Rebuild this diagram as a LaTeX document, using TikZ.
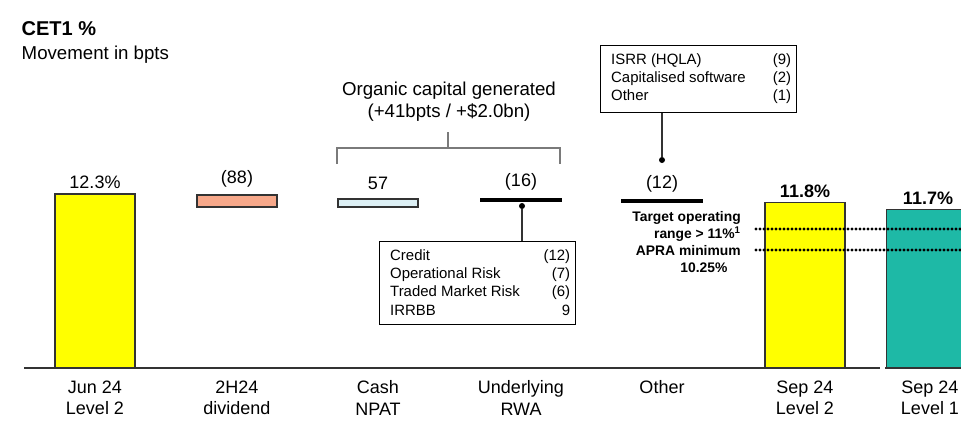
\documentclass[tikz,border=0pt]{standalone}
\usepackage{fontspec}
\setmainfont{Liberation Sans}
\usepackage{xcolor}
\usetikzlibrary{positioning}

\definecolor{barYellow}{HTML}{FFFF00}
\definecolor{barSalmon}{HTML}{F7A88A}
\definecolor{barIce}{HTML}{DDF0F5}
\definecolor{barTeal}{HTML}{1EB9A6}
\definecolor{edgeGrey}{HTML}{333333}
\definecolor{braceGrey}{HTML}{7A7A7A}

\begin{document}
\begin{tikzpicture}[x=0.75pt, y=-0.75pt,
  bar/.style={draw=edgeGrey, line width=1pt, inner sep=0pt, minimum width=60pt},
  stroke/.style={fill=black, inner sep=0pt, minimum width=61pt, minimum height=2.4pt},
  val/.style={font=\fontsize{13.5}{16}\selectfont, inner sep=1pt},
  cat/.style={font=\fontsize{13.5}{16}\selectfont, align=center, anchor=north},
  infobox/.style={draw=black, line width=0.8pt, inner xsep=0pt, inner ysep=3pt, font=\fontsize{11.2}{13.7}\selectfont},
  pin/.style={circle, fill=black, inner sep=0pt, minimum size=4.5pt},
  dots/.style={line width=2.3pt, line cap=round, dash pattern=on 0pt off 3pt}]

  \useasboundingbox (0,0) rectangle (961,433);
  \clip (0,0) rectangle (961,433);

  % Title
  \node[anchor=west, font=\fontsize{15}{18}\selectfont\bfseries] (title) at (17,29) {CET1 \%};
  \node[anchor=west, font=\fontsize{14}{16}\selectfont] (sub) at (17,55) {Movement in bpts};

  % Axis
  \coordinate (ax0) at (24,368);
  \coordinate (ax1) at (880,368);
  \coordinate (ax2) at (885,368);
  \coordinate (ax3) at (961,368);
  \draw[edgeGrey, line width=1.2pt] (ax0) -- (ax1);
  \draw[edgeGrey, line width=1.2pt] (ax2) -- (ax3);

  % Bars
  \node[bar, fill=barYellow, minimum height=130pt, anchor=south] (jun) at (95,368) {};
  \node[bar, fill=barSalmon, minimum height=9pt] (div) at (237,201) {};
  \node[bar, fill=barIce, minimum height=6pt] (npat) at (378,203) {};
  \node[stroke] (rwa) at (521,200) {};
  \node[stroke] (oth) at (662,201) {};
  \node[bar, fill=barYellow, minimum height=123.5pt, anchor=south] (sepa) at (805,368) {};
  \node[bar, fill=barTeal, minimum height=118.5pt, minimum width=62pt, anchor=south west] (sepb) at (886,368) {};

  % Values
  \node[val, above=2pt of jun] (vjun) {12.3\%};
  \node[val, above=4pt of div] (vdiv) {(88)};
  \node[val, above=5pt of npat] (vnpat) {57};
  \node[val, above=5pt of rwa] (vrwa) {(16)};
  \node[val, above=4pt of oth] (voth) {(12)};
  \node[val, above=2pt of sepa, font=\fontsize{13.5}{16}\selectfont\bfseries] (vsepa) {11.8\%};
  \node[val, above=2pt of sepb, font=\fontsize{13.5}{16}\selectfont\bfseries] (vsepb) {11.7\%};

  % Categories
  \node[cat] (cjun) at (95,376) {Jun 24\\Level 2};
  \node[cat] (cdiv) at (237,376) {2H24\\dividend};
  \node[cat] (cnpat) at (378,376) {Cash\\NPAT};
  \node[cat] (crwa) at (521,376) {Underlying\\RWA};
  \node[cat] (coth) at (662,376) {Other};
  \node[cat] (csepa) at (805,376) {Sep 24\\Level 2};
  \node[cat] (csepb) at (930,376) {Sep 24\\Level 1};

  % Organic capital bracket
  \node[align=center, font=\fontsize{14}{16.5}\selectfont] (org) at (449,102) {Organic capital generated\\(+41bpts / +\$2.0bn)};
  \coordinate (brL) at (337,164);
  \coordinate (brR) at (560,164);
  \coordinate (brM) at (448,148);
  \draw[braceGrey, line width=0.9pt] (brL) |- (brR |- brM) -- (brR);
  \draw[braceGrey, line width=0.9pt] (brM) -- (brM |- 0,132);

  % RWA breakdown
  \node[infobox, inner ysep=3pt, anchor=north west] (rwabox) at (379,241) {%
    \begin{tabular*}{147pt}{@{\hspace{8pt}}l@{\extracolsep{\fill}}r@{\hspace{4pt}}}
      \rule{0pt}{11pt}Credit & (12)\\
      Operational Risk & (7)\\
      Traded Market Risk & (6)\\
      IRRBB & 9
    \end{tabular*}};
  \node[pin] (pinrwa) at (522,206) {};
  \draw[edgeGrey, line width=1pt] (pinrwa) -- (pinrwa |- rwabox.north);

  % Other breakdown
  \node[infobox, inner ysep=4.5pt, anchor=north west] (othbox) at (600,45) {%
    \begin{tabular*}{147pt}{@{\hspace{8pt}}l@{\extracolsep{\fill}}r@{\hspace{4pt}}}
      ISRR (HQLA) & (9)\\
      Capitalised software & (2)\\
      Other & (1)
    \end{tabular*}};
  \node[pin] (pinoth) at (662,160) {};
  \draw[edgeGrey, line width=1pt] (pinoth) -- (pinoth |- othbox.south);

  % Capital thresholds
  \node[anchor=north east, align=right, inner sep=0pt, font=\fontsize{10.4}{12.9}\selectfont\bfseries] (target) at (741,211)
    {Target operating\\range > 11\%\textsuperscript{1}\\APRA minimum\\10.25\%\hspace*{10pt}};
  \coordinate (t1a) at (756,229);
  \coordinate (t1b) at (961,229);
  \coordinate (t2a) at (756,250);
  \coordinate (t2b) at (961,250);
  \draw[dots] (t1a) -- (t1b);
  \draw[dots] (t2a) -- (t2b);

\end{tikzpicture}
\end{document}
